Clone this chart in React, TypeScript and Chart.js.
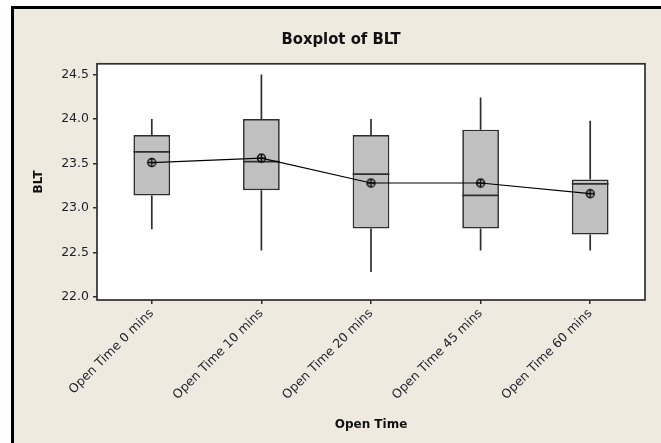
import { useEffect, useRef } from 'react';
import { Chart, registerables } from 'chart.js';
Chart.register(...registerables);

const categories = ['Open Time 0 mins', 'Open Time 10 mins', 'Open Time 20 mins', 'Open Time 45 mins', 'Open Time 60 mins'];
const whiskerLow = [22.76, 22.52, 22.28, 22.52, 22.52];
const q1 = [23.14, 23.2, 22.77, 22.77, 22.7];
const median = [23.63, 23.52, 23.38, 23.14, 23.27];
const q3 = [23.82, 24.0, 23.82, 23.88, 23.32];
const whiskerHigh = [24.0, 24.5, 24.0, 24.24, 23.98];
const means = [23.51, 23.56, 23.28, 23.28, 23.16];
const yTicks = [22.0, 22.5, 23.0, 23.5, 24.0, 24.5];
const yMin = 21.965;
const yMax = 24.62;

const LINE = '#2e2e2e';
const TEXT = '#1e1e2a';
const TICK_FONT = { family: "'DejaVu Sans', Tahoma, sans-serif", size: 12.5 };
const AXIS_TITLE_FONT = { family: "'DejaVu Sans', Tahoma, sans-serif", size: 12, weight: 'bold' as const };

function makeMeanSymbol(): HTMLCanvasElement {
  const c = document.createElement('canvas');
  c.width = 11;
  c.height = 11;
  const g = c.getContext('2d')!;
  g.strokeStyle = '#000';
  g.lineWidth = 1.3;
  g.beginPath();
  g.arc(5.5, 5.5, 4, 0, Math.PI * 2);
  g.stroke();
  g.beginPath();
  g.moveTo(1.5, 5.5);
  g.lineTo(9.5, 5.5);
  g.moveTo(5.5, 1.5);
  g.lineTo(5.5, 9.5);
  g.stroke();
  return c;
}

const boxExtras = {
  id: 'boxExtras',
  beforeDraw(chart: any) {
    const { ctx, chartArea: a } = chart;
    ctx.save();
    ctx.fillStyle = '#ffffff';
    ctx.fillRect(a.left, a.top, a.right - a.left, a.bottom - a.top);
    ctx.restore();
  },
  afterDatasetDraw(chart: any, args: any) {
    if (args.index !== 0) return;
    const { ctx } = chart;
    const y = chart.scales.y;
    const meta = chart.getDatasetMeta(0);
    ctx.save();
    ctx.strokeStyle = LINE;
    ctx.lineWidth = 1.7;
    meta.data.forEach((bar: any, i: number) => {
      const { x, width } = bar.getProps(['x', 'width'], true);
      const yq1 = y.getPixelForValue(q1[i]);
      const yq3 = y.getPixelForValue(q3[i]);
      const ylo = y.getPixelForValue(whiskerLow[i]);
      const yhi = y.getPixelForValue(whiskerHigh[i]);
      const ym = y.getPixelForValue(median[i]);
      ctx.beginPath();
      ctx.moveTo(x, yq1);
      ctx.lineTo(x, ylo);
      ctx.moveTo(x, yq3);
      ctx.lineTo(x, yhi);
      ctx.moveTo(x - width / 2, ym);
      ctx.lineTo(x + width / 2, ym);
      ctx.stroke();
    });
    ctx.restore();
  },
  afterDraw(chart: any) {
    const { ctx, chartArea: a } = chart;
    ctx.save();
    ctx.strokeStyle = LINE;
    ctx.lineWidth = 1.7;
    ctx.strokeRect(a.left, a.top, a.right - a.left, a.bottom - a.top);
    ctx.restore();
  },
};

export default function App() {
  const ref = useRef<HTMLCanvasElement>(null);

  useEffect(() => {
    if (!ref.current) return;
    const meanSymbol = makeMeanSymbol();
    const chart = new Chart(ref.current, {
      type: 'bar',
      data: {
        labels: categories,
        datasets: [
          {
            type: 'bar',
            data: q1.map((v, i) => [v, q3[i]]) as any,
            backgroundColor: '#c0c0c0',
            borderColor: LINE,
            borderWidth: 1.7,
            borderSkipped: false,
            barPercentage: 0.335,
            categoryPercentage: 1,
            order: 2,
          } as any,
          {
            type: 'line',
            data: means,
            borderColor: '#000',
            borderWidth: 1.2,
            tension: 0,
            pointStyle: meanSymbol as any,
            pointRadius: 5,
            order: 1,
          } as any,
        ],
      },
      options: {
        responsive: false,
        animation: false,
        devicePixelRatio: 1,
        layout: { padding: { left: 21, right: 0, top: 0, bottom: 0 } },
        plugins: {
          legend: { display: false },
          tooltip: { enabled: false },
          title: {
            display: true,
            text: 'Boxplot of BLT',
            color: '#111',
            font: { family: "'Liberation Sans Narrow', 'DejaVu Sans Condensed', sans-serif", size: 16.5, weight: 'bold' },
            padding: { top: 30, bottom: 14 },
          },
        },
        scales: {
          x: {
            type: 'category',
            offset: true,
            grid: { offset: false, drawOnChartArea: false, drawTicks: true, tickLength: 4, color: LINE, lineWidth: 1.5 },
            border: { display: false },
            ticks: { minRotation: 45, maxRotation: 45, autoSkip: false, color: TEXT, font: TICK_FONT, padding: 2 },
            title: { display: true, text: 'Open Time', color: '#111', font: AXIS_TITLE_FONT, padding: { top: 4, bottom: 11 } },
            afterFit: (s: any) => { s.height = 143; },
          },
          y: {
            type: 'linear',
            min: yMin,
            max: yMax,
            grid: { drawOnChartArea: false, drawTicks: true, tickLength: 4, color: LINE, lineWidth: 1.5 },
            border: { display: false },
            afterBuildTicks: (s: any) => { s.ticks = yTicks.map((v) => ({ value: v })); },
            ticks: { color: TEXT, font: TICK_FONT, padding: 4, callback: (v: any) => Number(v).toFixed(1) },
            title: { display: true, text: 'BLT', color: '#111', font: AXIS_TITLE_FONT, padding: { top: 11, bottom: 4 } },
            afterFit: (s: any) => { s.width = 76; },
          },
          yRight: {
            type: 'linear',
            position: 'right',
            display: true,
            grid: { display: false },
            border: { display: false },
            ticks: { display: false },
            afterFit: (s: any) => { s.width = 16; },
          },
        },
      },
      plugins: [boxExtras],
    } as any);
    return () => chart.destroy();
  }, []);

  return (
    <div style={{ position: 'fixed', left: 0, top: 0, width: 661, height: 443, overflow: 'hidden', background: '#ffffff' }}>
      <div
        style={{
          position: 'absolute',
          left: 11,
          top: 6,
          width: 700,
          height: 500,
          boxSizing: 'border-box',
          background: '#eeeae0',
          borderLeft: '3px solid #000',
          borderTop: '3px solid #000',
        }}
      />
      <canvas ref={ref} width={661} height={443} style={{ position: 'absolute', left: 0, top: 0, display: 'block' }} />
    </div>
  );
}
